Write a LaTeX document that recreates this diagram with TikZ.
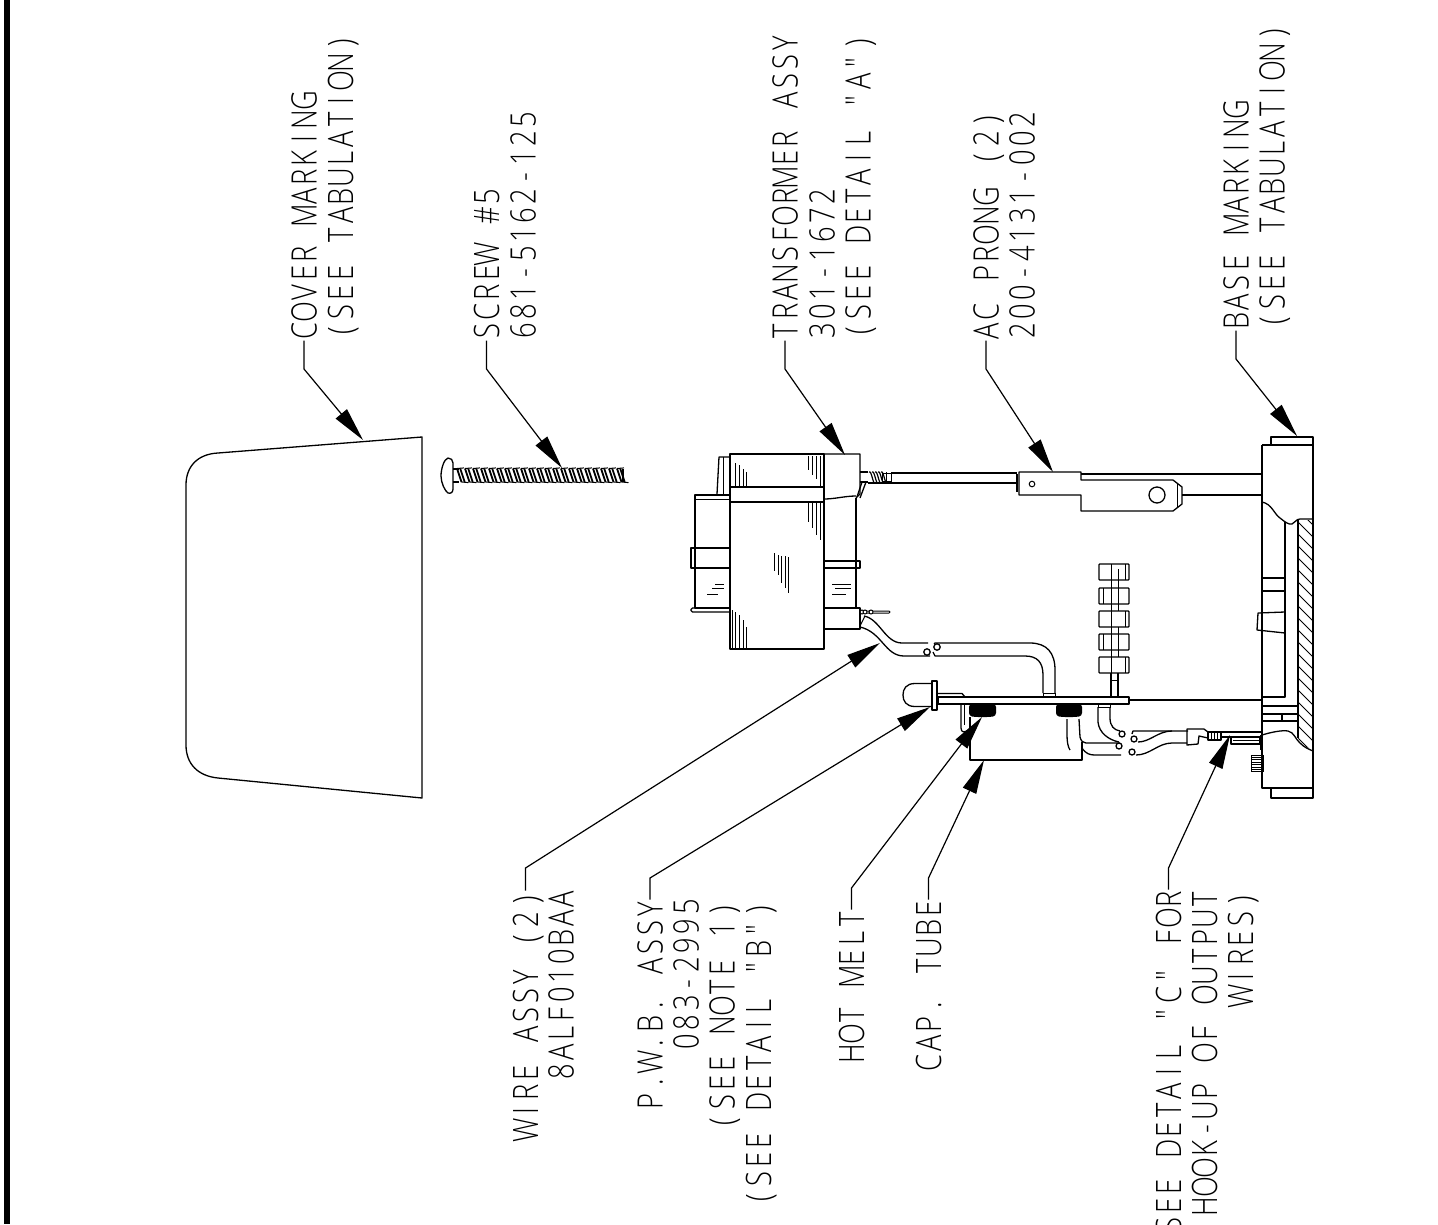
\documentclass[tikz,border=0pt]{standalone}
\usepackage{fontspec}
\usetikzlibrary{arrows.meta}
\newfontfamily\cadfont[FakeStretch=0.78]{Open Sans Light}
\newcommand{\cadsp}{}
\ExplSyntaxOn
\tl_new:N \l_cad_tl
\NewDocumentCommand\cad{m}{
  \tl_set:Nn \l_cad_tl {#1}
  \tl_replace_all:Nnn \l_cad_tl {~} {\cadsp}
  \tl_map_inline:Nn \l_cad_tl { \hbox~to~19.2pt{\hss ##1\hss} }
}
\ExplSyntaxOff
\tikzset{
  lab/.style={rotate=90,inner sep=0pt,outer sep=0pt,text height=25pt,text depth=0pt,font=\cadfont\fontsize{35pt}{35pt}\selectfont},
  up/.style={lab,anchor=west},
  dn/.style={lab,anchor=east},
  leader/.style={line width=1.2pt,-{Triangle[length=34pt,width=14.5pt]}},
  ln/.style={line width=1.3pt,line join=round},
  fine/.style={line width=1pt},
}
\begin{document}
\begin{tikzpicture}[x=1pt,y=-1pt]
\useasboundingbox (0,0) rectangle (1438,1224);
\clip (0,0) rectangle (1438,1224);
\fill[white] (0,0) rectangle (1438,1224);
\fill[black] (4,0) rectangle (9.5,1224);

% ---------- labels, upper
\node[up] (l1a) at (304,340.6) {\cad{COVER MARKING}};
\node[up] (l1b) at (340.5,340.6) {\cad{(SEE TABULATION)}};
\node[up] (l2a) at (486.5,340.6) {\cad{SCREW \#5}};
\node[up] (l2b) at (523,340.6) {\cad{681-5162-125}};
\node[up] (l3a) at (785,340.6) {\cad{TRANSFORMER ASSY}};
\node[up] (l3b) at (822,340.6) {\cad{301-1672}};
\node[up] (l3c) at (858,340.6) {\cad{(SEE DETAIL "A")}};
\node[up] (l4a) at (986,340.6) {\cad{AC PRONG (2)}};
\node[up] (l4b) at (1022,340.6) {\cad{200-4131-002}};
\node[up] (l5a) at (1236,330.6) {\cad{BASE MARKING}};
\node[up] (l5b) at (1272,330.6) {\cad{(SEE TABULATION)}};
% ---------- labels, lower
\node[dn] (l6a) at (525.5,890.5) {\cad{WIRE ASSY (2)}};
\node[dn] (l6b) at (561,889.5) {\cad{8ALF010BAA}};
\node[dn] (l7a) at (650,899.5) {\cad{P.W.B. ASSY}};
\node[dn] (l7b) at (686,897.5) {\cad{083-2995}};
\node[dn] (l7c) at (722,900.5) {\cad{(SEE NOTE 1)}};
\node[dn] (l7d) at (758.5,900.5) {\cad{(SEE DETAIL "B")}};
\node[dn] (l8) at (851.5,909.5) {\cad{HOT MELT}};
\node[dn] (l9) at (928.5,899.5) {\cad{CAP. TUBE}};
\node[dn] (l10a) at (1168.5,889.5) {\cad{SEE DETAIL "C" FOR}};
\node[dn] (l10b) at (1204.5,889.5) {\cad{HOOK-UP OF OUTPUT}};
\node[dn] (l10c) at (1240.5,890.5) {\cad{WIRES)}};

% ---------- leaders
\coordinate (t1) at (363,440); \coordinate (k1) at (304,369);
\coordinate (t2) at (562,468); \coordinate (k2) at (486.5,369);
\coordinate (t3) at (845,455); \coordinate (k3) at (785,369);
\coordinate (t4) at (1053,472); \coordinate (k4) at (986,369);
\coordinate (t5) at (1297,436); \coordinate (k5) at (1236,359);
\coordinate (t6) at (880,643); \coordinate (k6) at (525.5,868);
\coordinate (t7) at (930,707); \coordinate (k7) at (650,878);
\coordinate (t8) at (982,717); \coordinate (k8) at (851.5,888);
\coordinate (t9) at (984,760); \coordinate (k9) at (928.5,878);
\coordinate (t10) at (1230,735); \coordinate (k10) at (1168.5,868);

% ---------- cover
\draw[ln] (422,437) -- (422,798) -- (218,778) .. controls (198,776) and (186,764) .. (186,745)
  -- (186,485) .. controls (186,466) and (198,454) .. (218,453) -- cycle;

% ---------- screw
\draw[ln] (448,458) .. controls (451,458) and (453,460) .. (453,463) -- (453,489)
  .. controls (453,492) and (451,494) .. (448,493) .. controls (445,491) and (441,483) .. (441,476)
  .. controls (441,469) and (444,459) .. (448,458) -- cycle;
\draw[ln] (453,469) -- (459,469) (453,482) -- (459,482);
\foreach \t in {457,465,...,617}{
  \draw[line width=1.8pt] (\t,468.5) -- ++(4.5,13.5);
  \draw[line width=1.8pt] (\t+3.2,468.5) -- ++(4.5,13.5);
  \draw[line width=1pt] (\t,468.5) -- ++(7,-0.6) (\t+4.5,482) -- ++(7,0.6);
}
\draw[ln] (623,469) -- (623,482);

% ---------- transformer
\draw[ln] (730,454) rectangle (824,649);
\draw[ln] (730,487) rectangle (824,502);
\draw[ln] (824,454) -- (860,454) -- (860,494) -- (856,498);
\draw[ln] (824,499) .. controls (835,499) and (845,496) .. (856,496);
\draw[ln] (730,495) -- (695,495) -- (695,608) -- (730,608);
\draw[fine] (695,499) -- (730,499);
\draw[ln] (691,548) rectangle (730,568);
\draw[ln,rounded corners=1.5pt] (730,608) -- (691,608) -- (691,612) -- (730,612);
\draw[ln] (717,494) -- (719,457) -- (730,457);
\draw[fine] (723,457) -- (723,494) (729,457) -- (729,494);
\draw[ln] (856,498) -- (856,608);
\draw[ln] (824,561) -- (860,561) -- (860,568) -- (824,568);
\draw[ln] (824,608) rectangle (860,629);
% shading
\foreach \a/\b/\c in {735/463/487,739/465/487,743/469/487,746/472/487,
  808/456/470,812/456/475,816/456/479,820/456/487,
  808/503/522,812/503/528,816/503/535,820/503/540,823/503/545,
  774/553/571,778/555/575,781/556/583,785/556/588,788/557/593,
  732/610/649,735/612/649,739/615/649,743/620/649,746/627/649}{
  \draw[fine] (\a,\b) -- (\a,\c);
}
\draw[fine] (707,594) -- (718,594) (712,588) -- (724,588) (715,584) -- (724,584);
\draw[fine] (832,584) -- (851,584) (835,588) -- (851,588) (832,594) -- (846,594);
% top lead
\draw[ln] (860,472) -- (868,472) (860,482) -- (868,482);
\foreach \t in {869,872,...,882}{ \draw[line width=1.2pt] (\t,472) .. controls (\t+2,470) and (\t+3,478) .. (\t+5,483); }
\draw[fine] (882,473) rectangle (891,481);
\draw[fine] (886,472) -- (886,482);
\draw[ln] (866,482) -- (860,498) (862,482) -- (857,497);
\draw[ln] (891,473) -- (1017,473) (868,483) -- (1017,483);
% lower terminal
\draw[fine,rounded corners=1pt] (860,611) -- (890,611) -- (890,613) -- (860,613);
\foreach \t in {862,865,871}{ \draw[fine,fill=white] (\t,612) circle (2pt); }
\draw[fine] (860,626) -- (865,616);

% ---------- wire assembly
\draw[ln] (864,616) .. controls (880,619) and (885,643) .. (902,643) -- (928,643);
\draw[ln] (860,627) .. controls (882,632) and (885,656) .. (904,656) -- (930,656);
\draw[ln] (927,652) circle (3.2pt);
\draw[ln] (937,647) circle (3.2pt);
\draw[ln] (934,644) -- (935,643) -- (1030,643) .. controls (1047,643) and (1055,653) .. (1055,670) -- (1055,693);
\draw[ln] (933,652) -- (935,656) -- (1025,656) .. controls (1037,656) and (1043,662) .. (1043,675) -- (1043,693);
\draw[fine] (1043,693) rectangle (1055,697);

% ---------- cap tube
\draw[ln] (970,717) -- (970,760) -- (1082,760) -- (1082,742);
\draw[ln] (1079,719) -- (1080,737) .. controls (1081,741) and (1083,743) .. (1086,743) -- (1120,743);
\draw[ln] (1067,719) -- (1067,735) .. controls (1067,742) and (1068,747) .. (1070,750);
\draw[ln] (1082,748) .. controls (1086,754) and (1090,755) .. (1095,755) -- (1121,755);
\draw[ln] (961,704) -- (961,728) .. controls (961,733) and (965,733) .. (970,729);
\draw[fine] (964,704) -- (964,725);

% ---------- board and led
\draw[ln] (938,697) rectangle (1129,704);
\draw[ln] (932,681) rectangle (937,710);
\draw[ln] (932,683.5) -- (915,683.5) .. controls (906,683.5) and (903,689) .. (903,695) .. controls (903,701) and (906,706.5) .. (915,706.5) -- (932,706.5);
\draw[ln] (938,693.5) -- (962,693.5) -- (965,697);
\fill[black,rounded corners=3pt] (969,704) -- (996,704) -- (996,716) -- (990,717) -- (975,717) -- (969,716) -- cycle;
\fill[black,rounded corners=3pt] (1056,704) -- (1082,704) -- (1082,716) -- (1076,717) -- (1062,717) -- (1056,716) -- cycle;
\draw[ln] (1098,707) -- (1098,722) .. controls (1099,733) and (1109,740) .. (1119,742);
\draw[ln] (1110,707) -- (1110,718) .. controls (1110,726) and (1114,730) .. (1120,731);
\draw[fine] (1098,704) rectangle (1110,707);
\draw[ln] (1122,734) circle (3pt) (1119,746) circle (3pt);
\draw[ln] (1134,739) circle (3pt) (1132,752) circle (3pt);

% ---------- output wires
\draw[ln] (1132,734) -- (1133,731) -- (1188,731);
\draw[ln] (1138,742) .. controls (1150,742) and (1158,731) .. (1172,731);
\draw[ln] (1136,755) .. controls (1150,755) and (1158,743) .. (1172,743) -- (1187,743);
\draw[ln] (1187,729) -- (1204,729) -- (1208,732) -- (1208,738) -- (1199,736) -- (1198,744) -- (1187,745) -- cycle;
\draw[ln] (1208,732) rectangle (1221,740);
\foreach \t in {1211,1214,1217}{ \draw[fine] (\t,732) -- (\t,740); }
\draw[ln] (1221,732) -- (1262,732) (1221,737) -- (1262,737);
\draw[ln] (1231,737) -- (1231,744) -- (1260,744) -- (1260,737);
\draw[fine] (1233,740) -- (1260,740);
\draw[fine] (1260,735) rectangle (1262,749);

% ---------- resistor stack
\foreach \s/\p in {564/1125,588/1103,611/1125,634/1103,657/1125}{
  \draw[ln,rounded corners=.8pt] (1099,\s) rectangle ++(30,16);
  \draw[fine] (\p,\s) -- ++(0,16);
  \draw[fine] (1111,\s) -- ++(0,16);
}
\foreach \s/\n in {580/8,603/8,627/7,650/7}{
  \draw[fine] (1111,\s) -- ++(0,\n) (1118,\s) -- ++(0,\n);
}
\draw[fine] (1118,588) -- ++(0,15) (1118,634) -- ++(0,16) (1118,569) -- ++(0,11);
\draw[ln] (1111,673) -- (1111,697) (1118,673) -- (1118,697);
\draw[fine] (1111,680) -- (1118,680);

% ---------- base
\draw[ln] (1129,700) -- (1262,700);
\draw[ln] (1271,445) -- (1271,437) -- (1313,437) -- (1313,519);
\draw[ln] (1313,751) -- (1313,798) -- (1271,798) -- (1271,788);
\draw[ln] (1262,445) -- (1313,445);
\draw[ln] (1262,445) -- (1262,788) -- (1313,788);
\draw[ln] (1262,502) .. controls (1272,504) and (1274,514) .. (1280,518) .. controls (1285,522) and (1289,525) .. (1292,524) .. controls (1295,523) and (1296,519) .. (1300,519) -- (1313,519);
\draw[ln] (1285,522) -- (1285,697) -- (1262,697);
\draw[ln] (1298,520) -- (1298,738);
\draw[ln] (1313,519) -- (1313,751);
\draw[ln] (1262,735) .. controls (1272,732) and (1282,730) .. (1288,731) .. controls (1294,732) and (1296,740) .. (1300,743) .. controls (1304,747) and (1308,749) .. (1313,751);
\begin{scope}
  \clip (1298,520) -- (1313,520) -- (1313,751) -- (1300,743) -- (1298,738) -- cycle;
  \foreach \s in {510,522,...,750}{ \draw[fine] (1298,\s) -- ++(15,15); }
\end{scope}
\draw[ln] (1262,578) -- (1285,578) (1262,591) -- (1285,591);
\draw[ln] (1285,612) -- (1258,613) -- (1257,630) -- (1285,633);
\draw[ln] (1262,706) -- (1297,706) (1262,714) -- (1297,714) (1262,721) -- (1297,721);
\draw[ln] (1282,714) -- (1282,721);
% base screw
\draw[fine] (1251,755) rectangle (1263,771);
\foreach \t in {757,759.5,...,770}{ \draw[line width=.9pt] (1251,\t) -- (1263,\t); }

% ---------- prong
\draw[ln] (1019,472) -- (1081,472) -- (1081,480) -- (1173,480) -- (1182,487) -- (1182,504) -- (1173,511) -- (1081,511) -- (1081,495) -- (1019,495) -- cycle;
\draw[ln] (1017,474) -- (1017,492);
\draw[fine] (1032,484) circle (2.8pt);
\draw[ln] (1157,495) circle (8pt);
\draw[fine] (1177,484) -- (1177,507);
\draw[ln] (1081,474) -- (1262,474) (1182,495) -- (1262,495);

% ---------- leader lines
\draw[leader] (l1a.west) -- (k1) -- (t1);
\draw[leader] (l2a.west) -- (k2) -- (t2);
\draw[leader] (l3a.west) -- (k3) -- (t3);
\draw[leader] (l4a.west) -- (k4) -- (t4);
\draw[leader] (l5a.west) -- (k5) -- (t5);
\draw[leader] (l6a.east) -- (k6) -- (t6);
\draw[leader] (l7a.east) -- (k7) -- (t7);
\draw[leader] (l8.east) -- (k8) -- (t8);
\draw[leader] (l9.east) -- (k9) -- (t9);
\draw[leader] (l10a.east) -- (k10) -- (t10);
\end{tikzpicture}
\end{document}
